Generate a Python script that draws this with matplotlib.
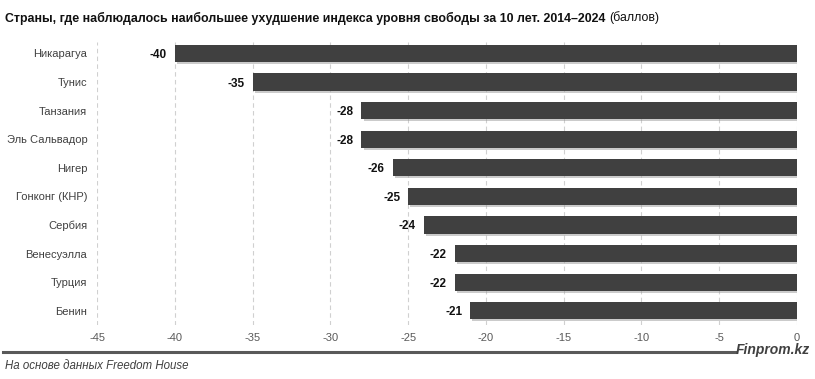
import matplotlib
matplotlib.use("Agg")
import matplotlib.pyplot as plt
import matplotlib.patheffects as pe
from matplotlib.lines import Line2D

countries = ["Никарагуа", "Тунис", "Танзания", "Эль Сальвадор", "Нигер",
             "Гонконг (КНР)", "Сербия", "Венесуэлла", "Турция", "Бенин"]
values = [-40, -35, -28, -28, -26, -25, -24, -22, -22, -21]
xticks = [-45, -40, -35, -30, -25, -20, -15, -10, -5, 0]

plt.rcParams['font.family'] = ['Liberation Sans', 'DejaVu Sans']

W, H = 815, 379
fig = plt.figure(figsize=(W/100, H/100), dpi=100)
ax = fig.add_axes([97/W, 1-325/H, 700/W, (325-42)/H])

pos = list(range(len(countries)))
bars = ax.barh(pos, values, height=0.6, color="#404040", zorder=3)
for b in bars:
    b.set_path_effects([pe.SimplePatchShadow(offset=(1.5, -1.5), shadow_rgbFace="#999999", alpha=0.5), pe.Normal()])

for p, v in zip(pos, values):
    ax.text(v - 0.5, p, f"{v}", ha="right", va="center_baseline", fontsize=8.5,
            fontweight="bold", color="#111111")

ax.set_xlim(-45, 0)
ax.set_ylim(9.5, -0.4)
ax.set_xticks(xticks)
ax.set_xticklabels([str(t) for t in xticks], color="#595959", fontsize=8)
ax.set_yticks(pos)
ax.set_yticklabels(countries, color="#404040", fontsize=8)
ax.tick_params(axis="both", length=0)
ax.tick_params(axis="x", pad=6)
ax.tick_params(axis="y", pad=7)
ax.grid(axis="x", color="#d0d0d0", linestyle=(0, (4, 3)), linewidth=0.8, zorder=0)
for s in ax.spines.values():
    s.set_visible(False)

t = fig.text(5/W, 1-18/H, "Страны, где наблюдалось наибольшее ухудшение индекса уровня свободы за 10 лет. 2014–2024",
             fontsize=10, fontweight="bold", color="#111111", va="center", ha="left")
fig.canvas.draw()
r = fig.canvas.get_renderer()
bb = t.get_window_extent(r)
t.set_fontsize(10 * 598 / bb.width)
fig.canvas.draw()
bb = t.get_window_extent(r)
fig.text((bb.x1 + 4)/W, 1-18/H, "(баллов)", fontsize=t.get_fontsize(), color="#111111", va="center", ha="left")

fig.add_artist(Line2D([3/W, 736/W], [1-352/H, 1-352/H], color="#595959", linewidth=2.2))
fig.text(810/W, 1-350/H, "Finprom.kz", fontsize=10, fontweight="bold", fontstyle="italic",
         color="#404040", ha="right", va="center")
fig.text(5/W, 1-366/H, "На основе данных Freedom House", fontsize=8.3, fontstyle="italic",
         color="#404040", ha="left", va="center")

fig.savefig("out.png", dpi=100)
